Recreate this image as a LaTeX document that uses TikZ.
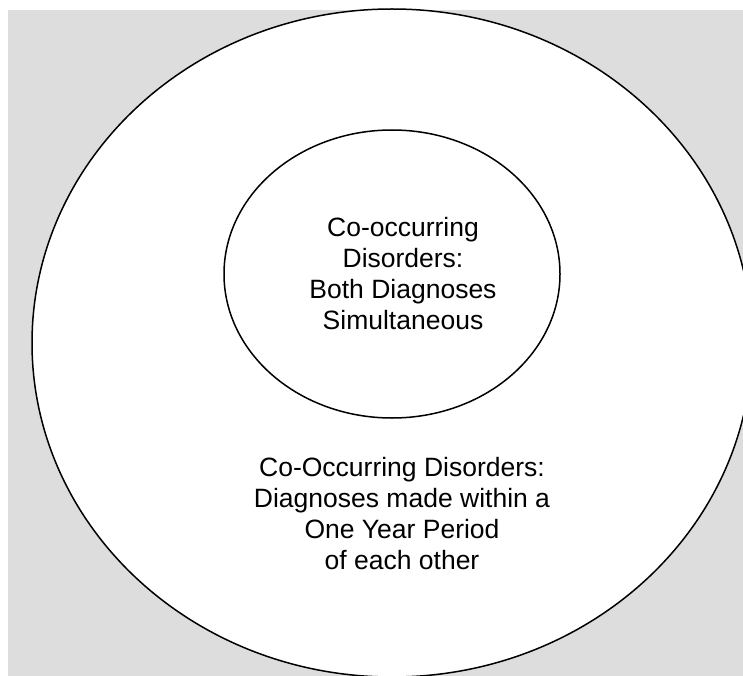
\documentclass[tikz,border=0pt]{standalone}
\usepackage{fontspec}
\setmainfont{Liberation Sans}
\usepackage{xcolor}
\usetikzlibrary{shapes.geometric}
\definecolor{bggray}{RGB}{221,221,221}

\begin{document}
\begin{tikzpicture}[x=1pt,y=-1pt,
    ring/.style={draw,ellipse,line width=1.5pt,fill=white,inner sep=0pt},
    caption/.style={align=center,font=\fontsize{26.5}{31}\selectfont}]
                \useasboundingbox (0,0) rectangle (743,676);
                \clip (0,0) rectangle (743,676);
                \fill[bggray] (8,10) rectangle (743,676);

                \node[ring,minimum width=720pt,minimum height=668pt] (outer) at (392,343) {};
                \node[ring,minimum width=336pt,minimum height=288pt] (inner) at (392,274) {};

                \node[caption] (innertext) at (403,274) {Co-occurring\\Disorders:\\Both Diagnoses\\Simultaneous};
                \node[caption] (outertext) at (402,514) {Co-Occurring Disorders:\\Diagnoses made within a\\One Year Period\\of each other};
            \end{tikzpicture}
\end{document}
